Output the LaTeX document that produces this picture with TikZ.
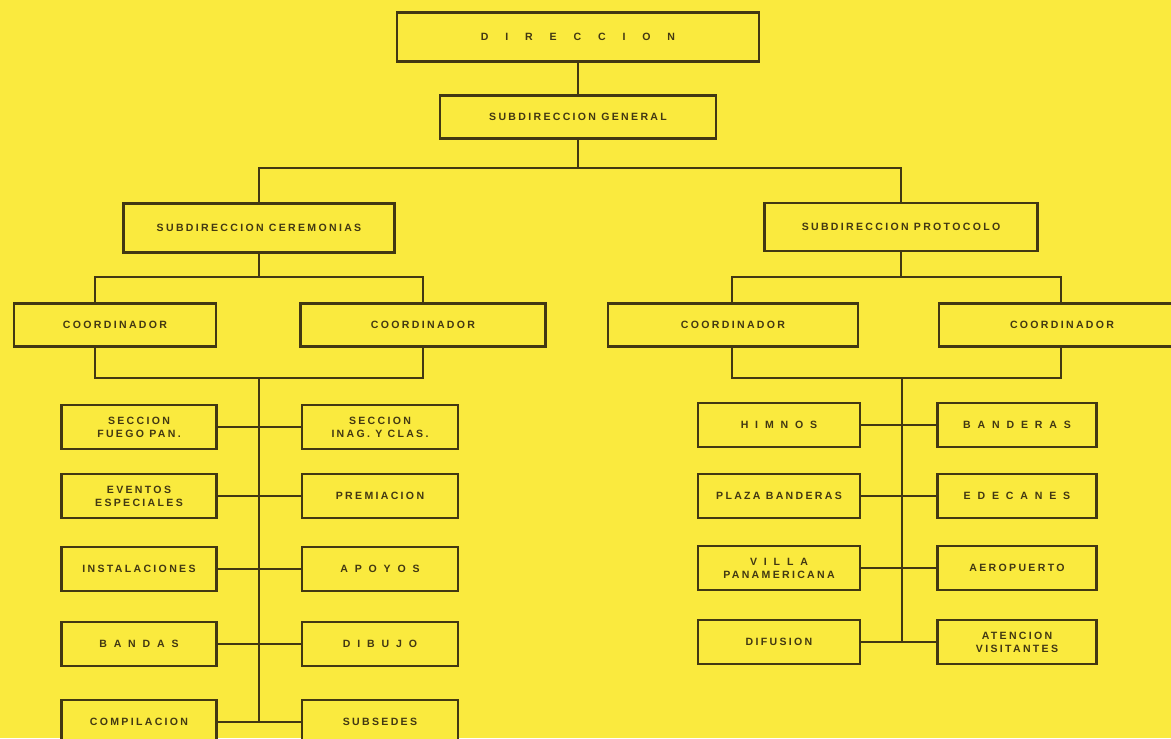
\documentclass[tikz,border=0pt]{standalone}
\usepackage{fontspec}
\setmainfont{Liberation Sans}
\newfontfamily\orgfont[LetterSpace=22]{Liberation Sans}
\newfontfamily\orgmid[LetterSpace=65]{Liberation Sans}
\newfontfamily\orgwide[LetterSpace=160]{Liberation Sans}
\usetikzlibrary{positioning,calc}
\definecolor{paper}{RGB}{250,234,62}
\definecolor{ink}{RGB}{66,56,18}
\tikzset{
  org/.style={draw=ink,line width=1.3pt,fill=paper,align=center,text=ink,font=\orgfont\bfseries\fontsize{6}{7.5}\selectfont,inner sep=1pt,minimum height=8.6mm},
  colA/.style={org,minimum width=31mm,minimum height=8.8mm},
  colB/.style={org,minimum width=31.2mm,minimum height=8.8mm},
  colC/.style={org,minimum width=32.4mm,minimum height=8.8mm},
  colD/.style={org,minimum width=31.8mm,minimum height=8.8mm},
  link/.style={draw=ink,line width=1.1pt}
}
\begin{document}
\begin{tikzpicture}[x=0.2mm,y=-0.2mm]
\useasboundingbox (0,0) rectangle (1171,738);
\clip (0,0) rectangle (1171,738);
\fill[paper] (0,0) rectangle (1171,738);
% upper levels
\node[org,minimum width=72.4mm,minimum height=9.8mm] (dir) at (578,37) {{\orgwide DIRECCION}};
\node[org,minimum width=55.2mm] (subgen) at (578,117) {SUBDIRECCION GENERAL};
\node[org,minimum width=54.2mm,minimum height=9.8mm] (subcer) at (259,228) {SUBDIRECCION CEREMONIAS};
\node[org,minimum width=54.6mm,minimum height=9.6mm] (subpro) at (901,227) {SUBDIRECCION PROTOCOLO};
\node[org,minimum width=40.4mm] (coo1) at (115,325) {COORDINADOR};
\node[org,minimum width=49mm] (coo2) at (423,325) {COORDINADOR};
\node[org,minimum width=50mm] (coo3) at (733,325) {COORDINADOR};
\node[org,minimum width=49.2mm] (coo4) at (1062,325) {COORDINADOR};
\coordinate (split) at (578,168);
\draw[link] (dir) -- (subgen);
\draw[link] (subgen.south) -- (split);
\draw[link] (subcer.north) -- (subcer.north |- split) -- (subpro.north |- split) -- (subpro.north);
% ceremonias
\coordinate (hl) at (259,277);
\coordinate (hl1) at (95,277);
\coordinate (hl2) at (423,277);
\coordinate (bl1) at (95,378);
\coordinate (bl2) at (423,378);
\coordinate (sl) at (259,378);
\draw[link] (subcer.south) -- (hl);
\draw[link] (coo1.north -| hl1) -- (hl1) -- (hl2) -- (coo2.north);
\draw[link] (coo1.south -| bl1) -- (bl1) -- (bl2) -- (coo2.south);
% protocolo
\coordinate (hr) at (901,277);
\coordinate (hr1) at (732,277);
\coordinate (hr2) at (1061,277);
\coordinate (br1) at (732,378);
\coordinate (br2) at (1061,378);
\coordinate (sr) at (902,378);
\draw[link] (subpro.south) -- (hr);
\draw[link] (coo3.north -| hr1) -- (hr1) -- (hr2) -- (coo4.north -| hr2);
\draw[link] (coo3.south -| br1) -- (br1) -- (br2) -- (coo4.south -| br2);
% sections
\foreach \la/\lb/\ta/\tb/\yy in {
  fuego/inag/{SECCION\\FUEGO PAN.}/{SECCION\\INAG. Y CLAS.}/427,
  eventos/premia/{EVENTOS\\ESPECIALES}/{PREMIACION}/496,
  instal/apoyos/{INSTALACIONES}/{{\orgmid APOYOS}}/569,
  bandas/dibujo/{{\orgmid BANDAS}}/{{\orgmid DIBUJO}}/644,
  compil/subsed/{COMPILACION}/{SUBSEDES}/722}{
  \node[colA] (\la) at (139,\yy) {\ta};
  \node[colB] (\lb) at (380,\yy) {\tb};
  \draw[link] (\la.east) -- (\lb.west);
}
\draw[link] (sl) -- (sl |- compil.east);
\foreach \la/\lb/\ta/\tb/\yy in {
  himnos/bander/{{\orgmid HIMNOS}}/{{\orgmid BANDERAS}}/425,
  plaza/edecan/{PLAZA BANDERAS}/{{\orgmid EDECANES}}/496,
  villa/aerop/{{\orgmid VILLA}\\PANAMERICANA}/{AEROPUERTO}/568,
  difus/atenc/{DIFUSION}/{ATENCION\\VISITANTES}/642}{
  \node[colC] (\la) at (779,\yy) {\ta};
  \node[colD] (\lb) at (1017,\yy) {\tb};
  \draw[link] (\la.east) -- (\lb.west);
}
\draw[link] (sr) -- (sr |- difus.east);
\end{tikzpicture}
\end{document}
